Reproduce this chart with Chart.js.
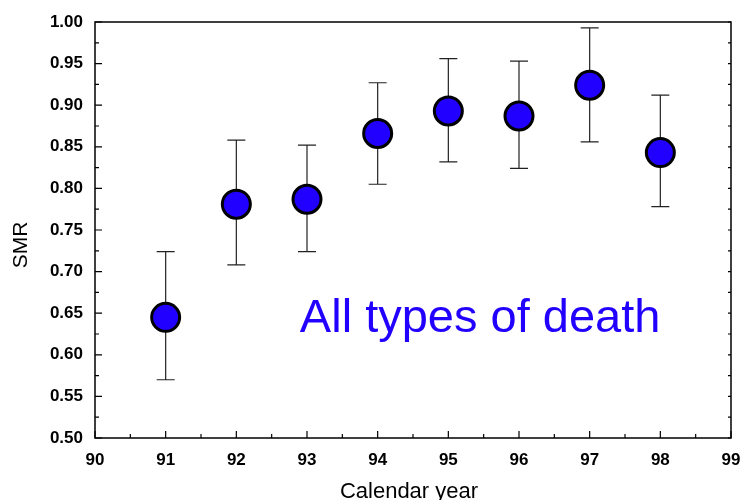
<!DOCTYPE html>
<html>
<head>
<meta charset="utf-8">
<script src="https://cdn.jsdelivr.net/npm/chart.js@4/dist/chart.umd.min.js"></script>
<style>
  html, body { margin: 0; padding: 0; background: #fff; }
  #wrap { width: 748px; height: 500px; }
</style>
</head>
<body>
<div id="wrap"><canvas id="c" width="748" height="500"></canvas></div>
<script>
// calendar year (19xx) and SMR with 95% CI
var years = [91, 92, 93, 94, 95, 96, 97, 98];
var smr   = [0.645, 0.781, 0.787, 0.866, 0.893, 0.887, 0.924, 0.843];
var upper = [0.724, 0.858, 0.852, 0.927, 0.956, 0.953, 0.993, 0.912];
var lower = [0.570, 0.708, 0.724, 0.805, 0.832, 0.824, 0.856, 0.778];

var blue = '#2200ff';
var FONT = '"Liberation Sans", Arial, sans-serif';

// error bars, drawn under the points
var errorBars = {
    id: 'errorBars',
    beforeDatasetsDraw: function (chart) {
        var ctx = chart.ctx, xs = chart.scales.x, ys = chart.scales.y;
        ctx.save();
        ctx.strokeStyle = '#222';
        ctx.lineWidth = 1.2;
        for (var i = 0; i < years.length; i++) {
            var px = xs.getPixelForValue(years[i]);
            var top = ys.getPixelForValue(upper[i]);
            var bot = ys.getPixelForValue(lower[i]);
            ctx.beginPath();
            ctx.moveTo(px, top); ctx.lineTo(px, bot);
            ctx.moveTo(px - 9, top); ctx.lineTo(px + 9, top);
            ctx.moveTo(px - 9, bot); ctx.lineTo(px + 9, bot);
            ctx.stroke();
        }
        ctx.restore();
    }
};

// frame, inward ticks, axis titles and the label inside the plot
var frame = {
    id: 'frame',
    afterDraw: function (chart) {
        var ctx = chart.ctx, a = chart.chartArea;
        var xs = chart.scales.x, ys = chart.scales.y;
        ctx.save();
        ctx.strokeStyle = '#000';
        ctx.lineWidth = 1.5;
        ctx.strokeRect(a.left, a.top, a.right - a.left, a.bottom - a.top);

        ctx.lineWidth = 1.2;
        ctx.beginPath();
        var v, p, len;
        for (v = 90; v <= 99.001; v += 0.5) {
            p = xs.getPixelForValue(v);
            len = (Math.abs(v - Math.round(v)) < 0.01) ? 7 : 4;
            ctx.moveTo(p, a.bottom); ctx.lineTo(p, a.bottom - len);
        }
        for (v = 0.5; v <= 1.0001; v += 0.025) {
            p = ys.getPixelForValue(v);
            len = (Math.abs(v * 20 - Math.round(v * 20)) < 0.01) ? 7 : 4;
            ctx.moveTo(a.left, p); ctx.lineTo(a.left + len, p);
            ctx.moveTo(a.right, p); ctx.lineTo(a.right - 3, p);
        }
        ctx.stroke();

        // axis titles
        ctx.fillStyle = '#000';
        ctx.textAlign = 'center';
        ctx.textBaseline = 'alphabetic';
        ctx.font = '22px ' + FONT;
        ctx.fillText('Calendar year', (a.left + a.right) / 2 - 4, 498);
        ctx.save();
        ctx.translate(27, 245);
        ctx.rotate(-Math.PI / 2);
        ctx.font = '21px ' + FONT;
        ctx.fillText('SMR', 0, 0);
        ctx.restore();

        ctx.fillStyle = blue;
        ctx.font = '47px ' + FONT;
        ctx.fillText('All types of death', xs.getPixelForValue(95.45), ys.getPixelForValue(0.628));
        ctx.restore();
    }
};

var points = [];
for (var i = 0; i < years.length; i++) points.push({ x: years[i], y: smr[i] });

new Chart(document.getElementById('c'), {
    type: 'scatter',
    data: {
        datasets: [{
            data: points,
            backgroundColor: blue,
            borderColor: '#000',
            borderWidth: 3,
            pointRadius: 14,
            pointHoverRadius: 14
        }]
    },
    options: {
        responsive: false,
        animation: false,
        layout: { padding: { left: 0, right: 11, top: 22, bottom: 0 } },
        plugins: {
            legend: { display: false },
            tooltip: { enabled: false }
        },
        scales: {
            x: {
                type: 'linear',
                min: 90, max: 99,
                grid: { display: false, drawTicks: false },
                border: { display: false },
                ticks: {
                    stepSize: 1,
                    padding: 12,
                    color: '#000',
                    font: { family: FONT, size: 17, weight: 'bold' }
                },
                afterFit: function (s) {
                    s.height = 62;
                    s.paddingLeft = 0;
                    s.paddingRight = 0;
                }
            },
            y: {
                min: 0.5, max: 1.0,
                grid: { display: false, drawTicks: false },
                border: { display: false },
                ticks: {
                    stepSize: 0.05,
                    padding: 12,
                    color: '#000',
                    font: { family: FONT, size: 17, weight: 'bold' },
                    callback: function (v) { return Number(v).toFixed(2); }
                },
                afterFit: function (s) {
                    s.width = 95;
                    s.paddingTop = 0;
                    s.paddingBottom = 0;
                }
            }
        }
    },
    plugins: [errorBars, frame]
});
</script>
</body>
</html>
